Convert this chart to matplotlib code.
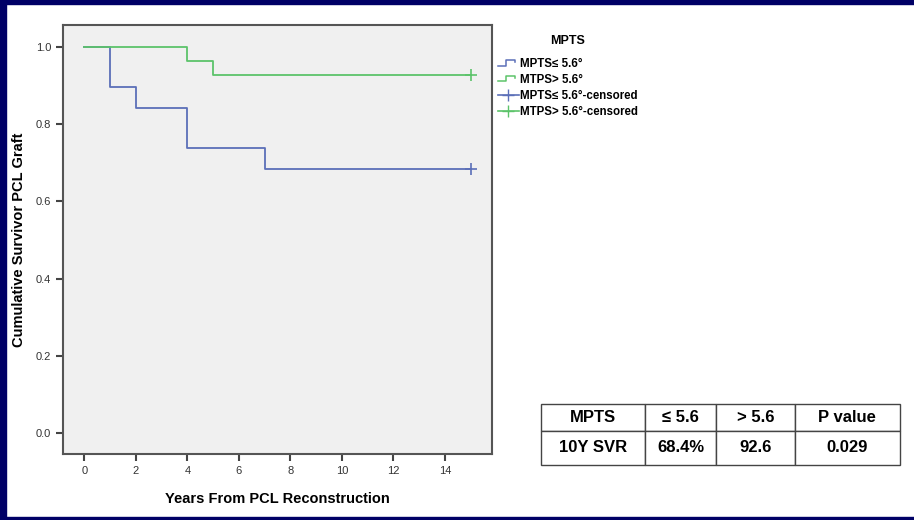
import numpy as np
import matplotlib.pyplot as plt
from matplotlib.lines import Line2D
from matplotlib.patches import Rectangle
from matplotlib.legend_handler import HandlerBase

plt.rcParams['font.family'] = ['Liberation Sans', 'DejaVu Sans']

# Kaplan-Meier steps
low_t = [0, 1, 2, 4, 7, 15]
low_s = [1.0, 0.895, 0.842, 0.737, 0.684, 0.684]
high_t = [0, 4, 5, 15]
high_s = [1.0, 0.963, 0.926, 0.926]
cens_t = 15

x_ticks = [0, 2, 4, 6, 8, 10, 12, 14]
y_ticks = [0.0, 0.2, 0.4, 0.6, 0.8, 1.0]

legend_labels = ['MPTS\u2264 5.6\u00b0', 'MTPS> 5.6\u00b0',
                 'MPTS\u2264 5.6\u00b0-censored', 'MTPS> 5.6\u00b0-censored']

table_rows = [['MPTS', '\u2264 5.6', '> 5.6', 'P value'],
              ['10Y SVR', '68.4%', '92.6', '0.029']]

blue = '#5b6fb8'
green = '#5cc36a'
navy = '#000066'


class StepHandler(HandlerBase):
    # little step glyph like the SPSS legend
    def create_artists(self, legend, orig, xd, yd, w, h, fs, trans):
        xs = [xd, xd + w * 0.4, xd + w * 0.4, xd + w * 0.85, xd + w * 0.85]
        ys = [yd + h * 0.2, yd + h * 0.2, yd + h * 0.85, yd + h * 0.85, yd + h * 0.6]
        ln = Line2D(xs, ys, color=orig.get_color(), lw=1.1, transform=trans)
        return [ln]


W, H = 914, 520
fig = plt.figure(figsize=(W / 100, H / 100), dpi=100)
fig.patch.set_facecolor('white')

# slide border
fig.patches.append(Rectangle((0, 1 - 4 / H), 1, 4 / H, transform=fig.transFigure, color=navy))
fig.patches.append(Rectangle((0, 0), 6 / W, 1, transform=fig.transFigure, color=navy))
fig.patches.append(Rectangle((0, 0), 1, 3 / H, transform=fig.transFigure, color=navy))

ax = fig.add_axes([63 / W, 1 - 454 / H, (492 - 63) / W, (454 - 25) / H])
ax.set_facecolor('#f0f0f0')
ax.step(low_t, low_s, where='post', color=blue, lw=1.3)
ax.step(high_t, high_s, where='post', color=green, lw=1.3)
ax.plot([cens_t], [low_s[-1]], marker='+', color=blue, ms=8, mew=1.2)
ax.plot([cens_t], [high_s[-1]], marker='+', color=green, ms=8, mew=1.2)

ax.set_xlim(-0.83, 15.83)
ax.set_ylim(-0.053, 1.056)
ax.set_xticks(x_ticks)
ax.set_yticks(y_ticks)
ax.set_yticklabels(['%.1f' % v for v in y_ticks])
ax.tick_params(direction='out', length=5, width=1.5, color='#444444',
               labelsize=8, labelcolor='#333333')
for s in ax.spines.values():
    s.set_color('#555555')
    s.set_linewidth(1.5)

ax.set_xlabel('Years From PCL Reconstruction', fontsize=10.5, fontweight='bold', labelpad=12)
ax.set_ylabel('Cumulative Survivor PCL Graft', fontsize=10.5, fontweight='bold', labelpad=7)

h_low = Line2D([], [], color=blue, lw=1.2)
h_high = Line2D([], [], color=green, lw=1.2)
handles = [h_low, h_high,
           Line2D([], [], color=blue, lw=1.2, marker='+', ms=9),
           Line2D([], [], color=green, lw=1.2, marker='+', ms=9)]
leg = ax.legend(handles, legend_labels, title='MPTS', loc='upper left',
                bbox_to_anchor=(1.0, 0.99), frameon=False,
                prop={'weight': 'bold', 'size': 8.3}, handlelength=1.8,
                handletextpad=0.1, labelspacing=0.33, borderaxespad=0.1,
                handler_map={h_low: StepHandler(), h_high: StepHandler()})
leg.get_title().set_fontweight('bold')
leg.get_title().set_fontsize(9)
leg._legend_box.align = 'center'
leg._legend_box.sep = 8

# summary table
tax = fig.add_axes([541 / W, 1 - 465 / H, (900 - 541) / W, (465 - 404) / H])
tax.axis('off')
col_w = np.array([104, 71, 78, 105]) / 358
tbl = tax.table(cellText=table_rows, cellLoc='center', loc='center',
                colWidths=list(col_w), bbox=[0, 0, 1, 1])
tbl.auto_set_font_size(False)
for (r, c), cell in tbl.get_celld().items():
    cell.set_text_props(fontsize=12, fontweight='bold', color='black')
    cell.set_edgecolor('#444444')
    cell.set_linewidth(1.0)
    cell.set_height(27 / 61 if r == 0 else 34 / 61)

fig.savefig('out.png', dpi=100)
